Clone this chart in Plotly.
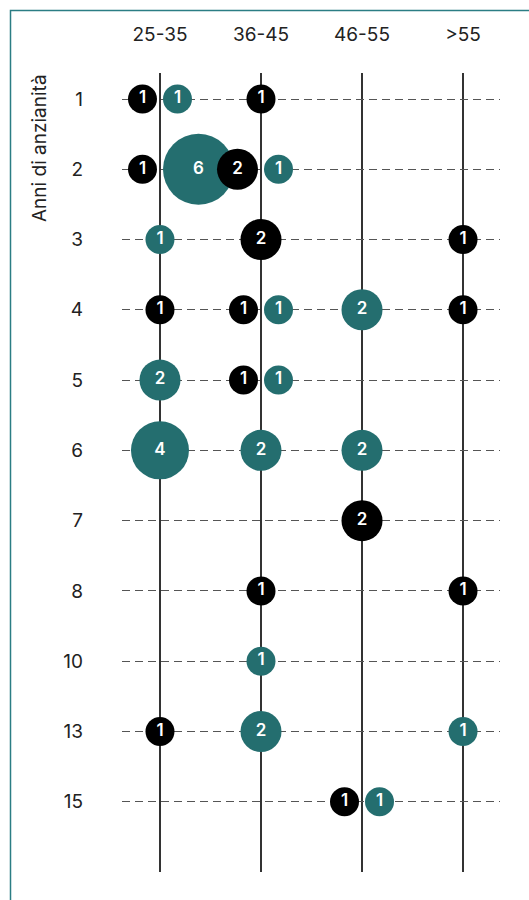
import math
import plotly.graph_objects as go

# Categories
age_groups = ["25-35", "36-45", "46-55", ">55"]
tenure_years = ["1", "2", "3", "4", "5", "6", "7", "8", "10", "13", "15"]

# Counts per tenure row (one value per age group)
black_counts = [
    [1, 1, 0, 0],
    [1, 2, 0, 0],
    [0, 2, 0, 1],
    [1, 1, 0, 1],
    [0, 1, 0, 0],
    [0, 0, 0, 0],
    [0, 0, 2, 0],
    [0, 1, 0, 1],
    [0, 0, 0, 0],
    [1, 0, 0, 0],
    [0, 0, 1, 0],
]
teal_counts = [
    [1, 0, 0, 0],
    [6, 1, 0, 0],
    [1, 0, 0, 0],
    [0, 1, 2, 0],
    [2, 1, 0, 0],
    [4, 2, 2, 0],
    [0, 0, 0, 0],
    [0, 0, 0, 0],
    [0, 1, 0, 0],
    [0, 2, 0, 1],
    [0, 0, 1, 0],
]

TEAL = "#246e6f"
BLACK = "#000000"
FONT = "Inter"
LABEL_SIZE = 19

W, H = 529, 900
M_L, M_R, M_T, M_B = 122, 29, 73, 28
X_RANGE = [-0.376, 3.366]
Y_RANGE = [11.0, -0.37]
plot_w = W - M_L - M_R
plot_h = H - M_T - M_B
px_per_unit = plot_w / (X_RANGE[1] - X_RANGE[0])

BASE_D = 29.0  # bubble diameter (px) for a count of 1
GAP = 3.0      # px between a bubble's edge and the column line when paired


def diameter(v):
    return BASE_D * math.sqrt(v)


def build(counts, other, side):
    xs, ys, vals = [], [], []
    for r, row in enumerate(counts):
        for c, v in enumerate(row):
            if v <= 0:
                continue
            x = c
            if other[r][c] > 0:
                shift = (diameter(v) / 2 + GAP) / px_per_unit
                x = c + side * shift
            xs.append(x)
            ys.append(r)
            vals.append(v)
    return xs, ys, vals


fig = go.Figure()
for counts, other, side, color in [
    (teal_counts, black_counts, 1, TEAL),
    (black_counts, teal_counts, -1, BLACK),
]:
    xs, ys, vals = build(counts, other, side)
    fig.add_trace(go.Scatter(
        x=xs, y=ys, mode="markers+text",
        text=[str(v) for v in vals],
        textposition="middle center",
        textfont=dict(family=FONT, size=17, color="white", weight=600),
        marker=dict(size=[diameter(v) for v in vals], color=color,
                    line=dict(width=0), opacity=1),
        hoverinfo="skip", showlegend=False, cliponaxis=False,
    ))


def px_to_paper_x(px):
    return (px - M_L) / plot_w


def px_to_paper_y(py):
    return (H - M_B - py) / plot_h


fig.update_layout(
    width=W, height=H,
    margin=dict(l=M_L, r=M_R, t=M_T, b=M_B),
    paper_bgcolor="white", plot_bgcolor="white",
    font=dict(family=FONT, size=LABEL_SIZE, color="#222"),
    xaxis=dict(
        range=X_RANGE, side="top",
        tickvals=list(range(len(age_groups))), ticktext=age_groups,
        showgrid=True, gridcolor="#333", gridwidth=1.5,
        zeroline=False, showline=False, ticks="",
        ticklabelstandoff=27,
        tickfont=dict(family=FONT, size=LABEL_SIZE, color="#222"),
    ),
    yaxis=dict(
        range=Y_RANGE,
        tickvals=list(range(len(tenure_years))), ticktext=tenure_years,
        showgrid=True, gridcolor="#555", gridwidth=1, griddash="8px,5px",
        zeroline=False, showline=False, ticks="",
        ticklabelstandoff=38,
        tickfont=dict(family=FONT, size=LABEL_SIZE, color="#222"),
    ),
    annotations=[dict(
        text="Anni di anzianità", textangle=-90, showarrow=False,
        xref="paper", yref="paper",
        x=px_to_paper_x(40), y=px_to_paper_y(72),
        xanchor="center", yanchor="top",
        font=dict(family=FONT, size=LABEL_SIZE, color="#222"),
    )],
    shapes=[dict(
        type="path", xref="paper", yref="paper",
        path=(f"M {px_to_paper_x(10.5)} {px_to_paper_y(H + 20)} "
              f"L {px_to_paper_x(10.5)} {px_to_paper_y(10.5)} "
              f"L {px_to_paper_x(W + 20)} {px_to_paper_y(10.5)}"),
        line=dict(color="#2b7d84", width=1.5),
    )],
)

fig.write_html("out.html")
